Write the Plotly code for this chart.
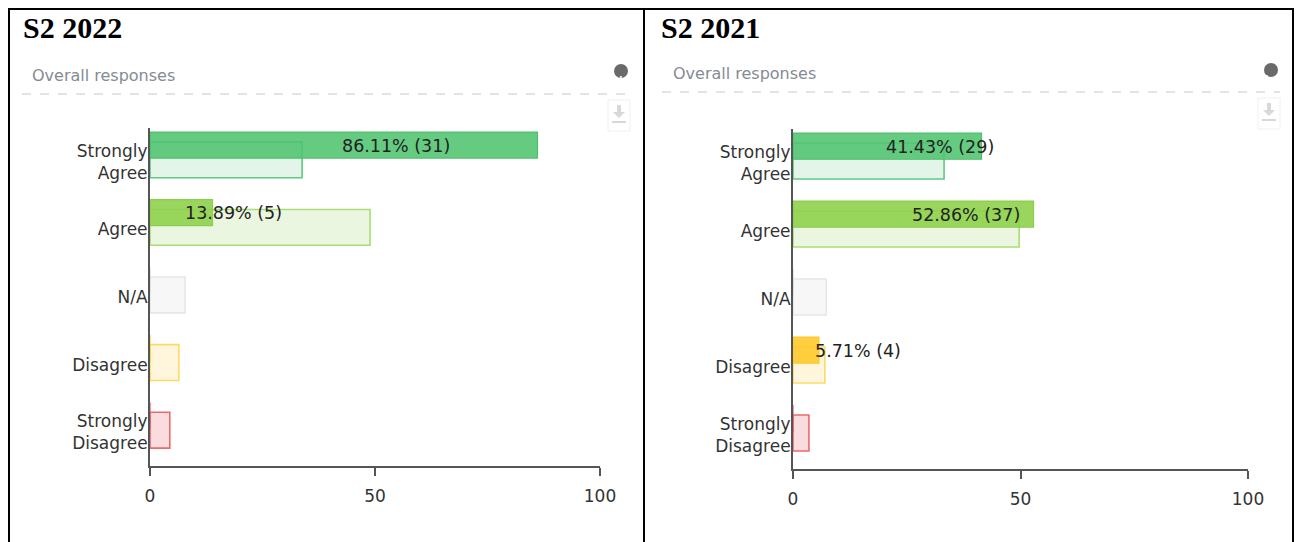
import plotly.graph_objects as go

# ---------------- data ----------------
categories = ["Strongly Agree", "Agree", "N/A", "Disagree", "Strongly Disagree"]
tick_labels = ["Strongly<br>Agree", "Agree", "N/A", "Disagree", "Strongly<br>Disagree"]

pct_2022 = [86.11, 13.89, 0, 0, 0]
count_2022 = [31, 5, 0, 0, 0]
benchmark_2022 = [33.8, 48.9, 7.8, 6.4, 4.4]

pct_2021 = [41.43, 52.86, 0, 5.71, 0]
count_2021 = [29, 37, 0, 4, 0]
benchmark_2021 = [33.2, 49.7, 7.3, 7.0, 3.5]

panel_titles = ["S2 2022", "S2 2021"]
x_ticks = [0, 50, 100]

# ---------------- styles ----------------
main_fill = ["rgba(80,196,112,0.88)", "rgba(140,208,72,0.88)", "rgba(220,220,220,0.88)",
             "rgba(255,200,40,0.88)", "rgba(235,90,95,0.88)"]
main_line = ["rgb(80,190,110)", "rgb(140,205,75)", "rgb(215,215,215)",
             "rgb(255,200,45)", "rgb(230,90,95)"]
bench_fill = ["rgb(226,245,232)", "rgb(235,246,225)", "rgb(247,247,247)",
              "rgb(255,246,220)", "rgb(251,220,222)"]
bench_line = ["rgb(95,202,128)", "rgb(168,222,115)", "rgb(230,230,230)",
              "rgb(255,217,100)", "rgb(238,105,110)"]

W, H = 1301, 542
FONT = "DejaVu Sans"


def px(x):
    return x / W


def py(y):
    return 1 - y / H


fig = go.Figure()

panels = [
    dict(pct=pct_2022, cnt=count_2022, bench=benchmark_2022, xa="x", ya="y"),
    dict(pct=pct_2021, cnt=count_2021, bench=benchmark_2021, xa="x2", ya="y2"),
]

for p in panels:
    fig.add_trace(go.Bar(
        y=categories, x=p["bench"], orientation="h", xaxis=p["xa"], yaxis=p["ya"],
        width=0.53, offset=-0.295,
        marker=dict(color=bench_fill, line=dict(color=bench_line, width=1.6)),
        hoverinfo="skip", showlegend=False,
    ))
    fig.add_trace(go.Bar(
        y=categories, x=p["pct"], orientation="h", xaxis=p["xa"], yaxis=p["ya"],
        width=0.385, offset=-0.44,
        marker=dict(color=main_fill, line=dict(color=main_line, width=1.2)),
        hoverinfo="skip", showlegend=False,
    ))
    for cat, v, c in zip(categories, p["pct"], p["cnt"]):
        if v > 0:
            fig.add_annotation(
                x=v / 2 + 11.5, y=cat, xref=p["xa"], yref=p["ya"],
                text=f"{v:.2f}% ({c})", showarrow=False, xanchor="center",
                yshift=16, font=dict(family=FONT, size=17.5, color="#222"),
            )

axis_common_x = dict(range=[0, 100], tickvals=x_ticks, ticks="outside", ticklen=8,
                     tickwidth=2, tickcolor="#555", showline=True, linecolor="#555",
                     linewidth=2, showgrid=False, zeroline=False, automargin=False,
                     ticklabelstandoff=6,
                     tickfont=dict(family=FONT, size=17, color="#333"), fixedrange=True)
axis_common_y = dict(type="category", categoryarray=categories, range=[4.5, -0.5],
                     tickvals=categories, ticktext=tick_labels, ticks="",
                     showline=True, linecolor="#555", linewidth=2, showgrid=False,
                     zeroline=False, automargin=False,
                     tickfont=dict(family=FONT, size=17, color="#333"),
                     ticklabelstandoff=-3, fixedrange=True)

fig.update_layout(
    width=W, height=H, margin=dict(l=0, r=0, t=0, b=0, pad=0, autoexpand=False),
    paper_bgcolor="white", plot_bgcolor="white", barmode="overlay",
    xaxis=dict(domain=[px(150), px(600)], anchor="y", **axis_common_x),
    yaxis=dict(domain=[py(466), py(128)], anchor="x", **axis_common_y),
    xaxis2=dict(domain=[px(793), px(1248)], anchor="y2", **axis_common_x),
    yaxis2=dict(domain=[py(469), py(129)], anchor="x2", **axis_common_y),
)

shapes = []
# table borders
shapes.append(dict(type="line", xref="paper", yref="paper", x0=px(8), x1=px(1294), y0=py(9), y1=py(9),
                   line=dict(color="black", width=2)))
for bx in [9, 644, 1293]:
    shapes.append(dict(type="line", xref="paper", yref="paper", x0=px(bx), x1=px(bx), y0=py(8), y1=py(542),
                       line=dict(color="black", width=2)))

panel_geo = [
    dict(title_x=21, title_y=28, sub_x=30, sub_y=75, dash_x0=22, dash_x1=630, dash_y=94,
         info=(621, 71), dl=(608, 100, 630, 131)),
    dict(title_x=659, title_y=28, sub_x=671, sub_y=73, dash_x0=662, dash_x1=1280, dash_y=92,
         info=(1271, 70), dl=(1258, 98, 1280, 129)),
]

for title, g in zip(panel_titles, panel_geo):
    fig.add_annotation(x=px(g["title_x"]), y=py(g["title_y"]), xref="paper", yref="paper",
                       text=f"<b>{title}</b>", showarrow=False, xanchor="left", yanchor="middle",
                       font=dict(family="Liberation Serif", size=30, color="black"))
    fig.add_annotation(x=px(g["sub_x"]), y=py(g["sub_y"]), xref="paper", yref="paper",
                       text="Overall responses", showarrow=False, xanchor="left", yanchor="middle",
                       font=dict(family=FONT, size=16, color="#858b93"))
    shapes.append(dict(type="line", xref="paper", yref="paper", x0=px(g["dash_x0"]), x1=px(g["dash_x1"]),
                       y0=py(g["dash_y"]), y1=py(g["dash_y"]),
                       line=dict(color="#dcdcdc", width=1.5, dash="dash")))
    ix, iy = g["info"]
    shapes.append(dict(type="circle", xref="paper", yref="paper", x0=px(ix - 7), x1=px(ix + 7),
                       y0=py(iy - 7), y1=py(iy + 7), fillcolor="#6a6a6a", line=dict(width=0),
                       layer="below"))
    fig.add_annotation(x=px(ix), y=py(iy), xref="paper", yref="paper", text="<b>i</b>",
                       showarrow=False, font=dict(family="Liberation Serif", size=13, color="white"))
    x0, y0, x1, y1 = g["dl"]
    shapes.append(dict(type="rect", xref="paper", yref="paper", x0=px(x0), x1=px(x1),
                       y0=py(y0), y1=py(y1), line=dict(color="#f0f0f0", width=1), fillcolor="white"))
    cx = (x0 + x1) / 2
    shapes.append(dict(type="rect", xref="paper", yref="paper", x0=px(cx - 2), x1=px(cx + 2),
                       y0=py(y0 + 5), y1=py(y0 + 12), line=dict(width=0), fillcolor="#d8d8d8"))
    shapes.append(dict(type="path", xref="paper", yref="paper",
                       path=f"M {px(cx - 6)},{py(y0 + 12)} L {px(cx + 6)},{py(y0 + 12)} L {px(cx)},{py(y0 + 18)} Z",
                       line=dict(width=0), fillcolor="#d8d8d8"))
    shapes.append(dict(type="rect", xref="paper", yref="paper", x0=px(cx - 7), x1=px(cx + 7),
                       y0=py(y0 + 21), y1=py(y0 + 23), line=dict(width=0), fillcolor="#d8d8d8"))

fig.update_layout(shapes=shapes)

fig.write_html("out.html", config={"displayModeBar": False})
